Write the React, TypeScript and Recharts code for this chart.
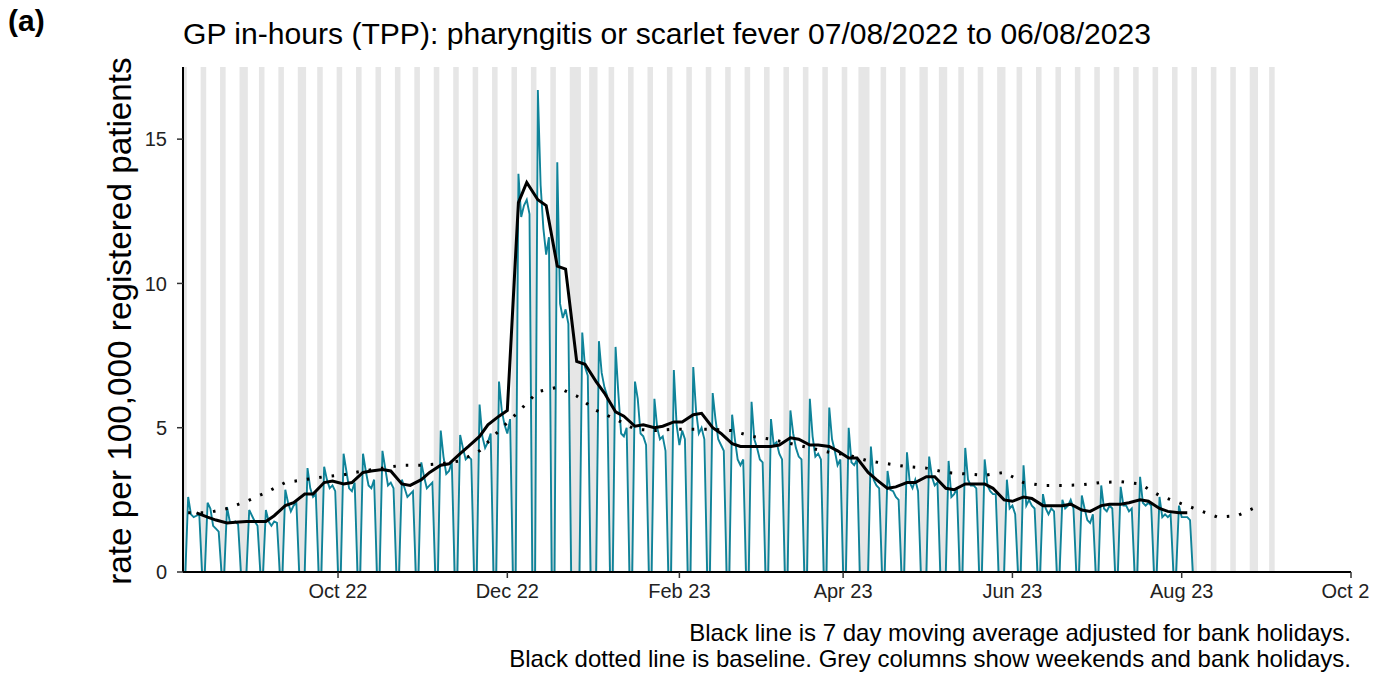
import React from 'react'
import { ComposedChart, Line, XAxis, YAxis, ReferenceArea } from 'recharts'

// day 0 = Sunday 07/08/2022, day 1 = Monday 08/08/2022
const DAY0 = Date.UTC(2022, 7, 7)
const dayOf = (y: number, m: number, d: number) => Math.round((Date.UTC(y, m - 1, d) - DAY0) / 86400000)

// weekday rates (Mon..Fri) per week, starting Mon 08/08/2022; bank holidays are 0
const weekdayRates = [
  [2.6, 2.0, 1.9, 1.95, 2.0],
  [2.4, 2.2, 1.6, 1.5, 1.4],
  [2.25, 1.75, 1.7, 1.75, 1.65],
  [0, 2.15, 1.95, 1.75, 1.6],
  [2.15, 1.75, 1.6, 1.75, 1.7],
  [2.85, 2.4, 2.1, 2.3, 2.4],
  [0, 3.6, 2.9, 2.6, 2.7],
  [3.65, 3.2, 2.9, 3.0, 2.8],
  [4.1, 3.5, 2.9, 2.8, 3.1],
  [4.1, 3.5, 3.0, 2.9, 3.2],
  [4.2, 3.6, 3.0, 3.1, 2.9],
  [3.2, 2.9, 2.6, 2.7, 2.8],
  [3.8, 3.3, 2.9, 3.0, 3.1],
  [4.9, 4.0, 3.4, 3.5, 3.8],
  [4.75, 4.3, 3.9, 4.0, 3.9],
  [5.8, 4.7, 4.3, 4.5, 4.8],
  [6.6, 5.6, 5.1, 4.8, 5.3],
  [13.8, 12.3, 12.7, 12.9, 12.4],
  [16.7, 13.4, 11.9, 11.0, 11.6],
  [14.2, 9.3, 8.8, 9.1, 8.6],
  [0, 0, 8.3, 7.1, 6.8],
  [0, 8.0, 6.9, 6.4, 6.1],
  [7.8, 6.2, 4.8, 4.7, 5.0],
  [6.6, 6.0, 4.8, 4.7, 4.4],
  [6.0, 5.0, 4.6, 4.7, 4.2],
  [7.0, 5.1, 4.4, 4.9, 4.6],
  [7.1, 5.6, 4.8, 5.0, 4.6],
  [6.2, 5.3, 4.6, 4.4, 4.2],
  [5.45, 4.6, 3.9, 3.7, 3.9],
  [5.9, 4.6, 4.3, 3.9, 3.8],
  [5.3, 4.4, 4.5, 4.1, 3.9],
  [5.6, 4.8, 4.3, 4.0, 3.9],
  [6.0, 4.7, 4.0, 4.1, 3.9],
  [5.7, 4.6, 4.2, 3.7, 3.9],
  [5.0, 3.8, 3.7, 3.9, 0],
  [0, 4.35, 3.2, 3.0, 2.9],
  [3.5, 2.85, 2.8, 2.6, 2.5],
  [4.15, 3.1, 2.9, 3.2, 2.8],
  [0, 4.0, 3.3, 3.0, 3.1],
  [0, 3.85, 2.6, 2.7, 2.9],
  [4.3, 3.2, 3.0, 3.0, 2.9],
  [3.9, 3.0, 2.8, 2.7, 2.7],
  [0, 3.2, 2.2, 2.3, 2.0],
  [3.7, 2.3, 2.5, 2.3, 2.2],
  [2.7, 2.2, 2.0, 2.2, 2.1],
  [2.5, 2.2, 2.3, 2.5, 2.2],
  [2.65, 2.2, 1.8, 1.7, 2.0],
  [3.0, 2.2, 2.1, 2.3, 2.2],
  [2.95, 2.3, 2.3, 2.1, 2.2],
  [3.3, 2.4, 2.3, 2.4, 2.3],
  [2.6, 1.9, 2.0, 1.9, 2.0],
  [2.3, 1.9, 1.9, 1.9, 1.8],
]

// 7 day moving average read at [Monday, Thursday] of each week
const movingAvg: [number | null, number][] = [
  [null, 2.05], [1.9, 1.8], [1.7, 1.72], [1.75, 1.75], [1.75, 1.95], [2.3, 2.4],
  [2.7, 2.7], [3.1, 3.15], [3.05, 3.1], [3.45, 3.5], [3.55, 3.5], [3.05, 3.0],
  [3.2, 3.45], [3.7, 3.75], [4.1, 4.35], [4.7, 5.1], [5.4, 5.6], [12.8, 13.5],
  [12.9, 12.7], [10.6, 10.5], [7.3, 7.2], [6.6, 6.2], [5.55, 5.4], [5.05, 5.1],
  [5.0, 5.05], [5.2, 5.2], [5.45, 5.5], [5.0, 4.8], [4.45, 4.35], [4.35, 4.35],
  [4.35, 4.4], [4.65, 4.6], [4.4, 4.4], [4.35, 4.2], [3.95, 3.95], [3.45, 3.2],
  [2.9, 2.95], [3.1, 3.1], [3.3, 3.3], [2.9, 2.85], [3.05, 3.05], [3.05, 2.9],
  [2.5, 2.45], [2.6, 2.55], [2.3, 2.3], [2.3, 2.35], [2.15, 2.1], [2.3, 2.35],
  [2.35, 2.4], [2.5, 2.45], [2.2, 2.1], [2.05, 2.05],
]

// baseline read at each Monday from 08/08/2022 to 28/08/2023
const baseline = [
  2.05, 2.05, 2.2, 2.45, 2.75, 3.1, 3.2, 3.3, 3.37, 3.5, 3.6, 3.7, 3.7, 3.75,
  3.85, 4.2, 4.9, 5.55, 6.25, 6.4, 6.1, 5.6, 5.3, 4.95, 4.9, 4.95, 4.95, 4.95,
  4.9, 4.7, 4.6, 4.45, 4.3, 4.15, 4.05, 3.85, 3.75, 3.65, 3.6, 3.45, 3.4, 3.35,
  3.45, 3.1, 3.0, 3.0, 3.02, 3.1, 3.13, 3.05, 2.65, 2.4, 2.15, 1.9, 1.95, 2.26,
]

const bankHolidays = [
  dayOf(2022, 8, 29), dayOf(2022, 9, 19), dayOf(2022, 12, 26), dayOf(2022, 12, 27),
  dayOf(2023, 1, 2), dayOf(2023, 4, 7), dayOf(2023, 4, 10), dayOf(2023, 5, 1),
  dayOf(2023, 5, 8), dayOf(2023, 5, 29), dayOf(2023, 8, 28),
]

const tickDays = [
  dayOf(2022, 10, 1), dayOf(2022, 12, 1), dayOf(2023, 2, 1),
  dayOf(2023, 4, 1), dayOf(2023, 6, 1), dayOf(2023, 8, 1), dayOf(2023, 10, 1),
]
const tickLabels = ['Oct 22', 'Dec 22', 'Feb 23', 'Apr 23', 'Jun 23', 'Aug 23', 'Oct 23']

const LAST_DATA_DAY = dayOf(2023, 8, 6)
const LAST_GREY_DAY = dayOf(2023, 9, 3)

type Row = { d: number; rate?: number; ma?: number | null; base?: number }

const rows: Row[] = []
for (let d = 0; d <= LAST_GREY_DAY; d++) {
  const row: Row = { d }
  if (d <= LAST_DATA_DAY) {
    const k = Math.floor((d - 1) / 7)
    const dow = (d - 1) % 7
    row.rate = d === 0 || dow > 4 ? 0 : weekdayRates[k][dow]
  }
  rows.push(row)
}
movingAvg.forEach(([mon, thu], k) => {
  if (mon !== null) rows[1 + 7 * k].ma = mon
  rows[4 + 7 * k].ma = thu
})
baseline.forEach((v, k) => {
  rows[1 + 7 * k].base = v
})

// grey columns: weekends and bank holidays, grouped into runs
const offDays = new Set<number>(bankHolidays)
for (let d = 0; d <= LAST_GREY_DAY; d++) {
  const dow = ((d - 1) % 7 + 7) % 7
  if (dow >= 5) offDays.add(d)
}
const greyRuns: [number, number][] = []
Array.from(offDays).sort((a, b) => a - b).forEach((d) => {
  const last = greyRuns[greyRuns.length - 1]
  if (last && last[1] === d - 1) last[1] = d
  else greyRuns.push([d, d])
})

const FONT = '"Liberation Sans", Arial, Helvetica, sans-serif'
const TEAL = '#0f8399'

export default function App() {
  return (
    <div style={{ position: 'absolute', left: 0, top: 0, width: 1391, height: 674, background: '#fff', fontFamily: FONT }}>
      <div style={{ position: 'absolute', left: 0, top: 0, width: 1369, height: 674, overflow: 'hidden' }}>
        <ComposedChart
          width={1391}
          height={674}
          data={rows}
          margin={{ top: 67, right: 40, left: 113, bottom: 72 }}
          style={{ fontFamily: FONT }}
        >
          {greyRuns.map(([a, b]) => (
            <ReferenceArea
              key={a}
              x1={a - 0.5}
              x2={b + 0.5}
              fill="#e6e6e6"
              fillOpacity={1}
              stroke="none"
              ifOverflow="hidden"
            />
          ))}
          <XAxis
            dataKey="d"
            type="number"
            domain={[-0.86, 420]}
            allowDataOverflow
            ticks={tickDays}
            tickFormatter={(v: number) => tickLabels[tickDays.indexOf(v)]}
            axisLine={{ stroke: '#000', strokeWidth: 2 }}
            tickLine={{ stroke: '#333', strokeWidth: 1.5 }}
            tickSize={6}
            tickMargin={6}
            height={30}
            tick={{ fill: '#222', fontSize: 20 }}
            interval={0}
          />
          <YAxis
            type="number"
            domain={[0, 17.5]}
            ticks={[0, 5, 10, 15]}
            axisLine={{ stroke: '#000', strokeWidth: 2 }}
            tickLine={{ stroke: '#333', strokeWidth: 1.5 }}
            tickSize={6}
            tickMargin={10}
            width={70}
            tick={{ fill: '#222', fontSize: 20 }}
            interval={0}
          />
          <Line
            dataKey="rate"
            type="linear"
            stroke={TEAL}
            strokeWidth={1.9}
            dot={false}
            isAnimationActive={false}
          />
          <Line
            dataKey="base"
            type="linear"
            stroke="#000"
            strokeWidth={3}
            strokeDasharray="2.5 10"
            dot={false}
            connectNulls
            isAnimationActive={false}
          />
          <Line
            dataKey="ma"
            type="linear"
            stroke="#000"
            strokeWidth={3}
            dot={false}
            connectNulls
            isAnimationActive={false}
          />
        </ComposedChart>
      </div>
      <svg width={1391} height={674} style={{ position: 'absolute', left: 0, top: 0, pointerEvents: 'none', fontFamily: FONT }}>
        <text x={8} y={31} fontSize={30} fontWeight="bold" fill="#000">(a)</text>
        <text x={183} y={44} fontSize={30.1} fill="#000">
          GP in-hours (TPP): pharyngitis or scarlet fever 07/08/2022 to 06/08/2023
        </text>
        <text
          x={131}
          y={321}
          fontSize={33.3}
          fill="#000"
          textAnchor="middle"
          transform="rotate(-90 131 321)"
        >
          rate per 100,000 registered patients
        </text>
        <text x={1351} y={641} fontSize={24} fill="#000" textAnchor="end">
          Black line is 7 day moving average adjusted for bank holidays.
        </text>
        <text x={1351} y={667} fontSize={24} fill="#000" textAnchor="end">
          Black dotted line is baseline. Grey columns show weekends and bank holidays.
        </text>
      </svg>
    </div>
  )
}
